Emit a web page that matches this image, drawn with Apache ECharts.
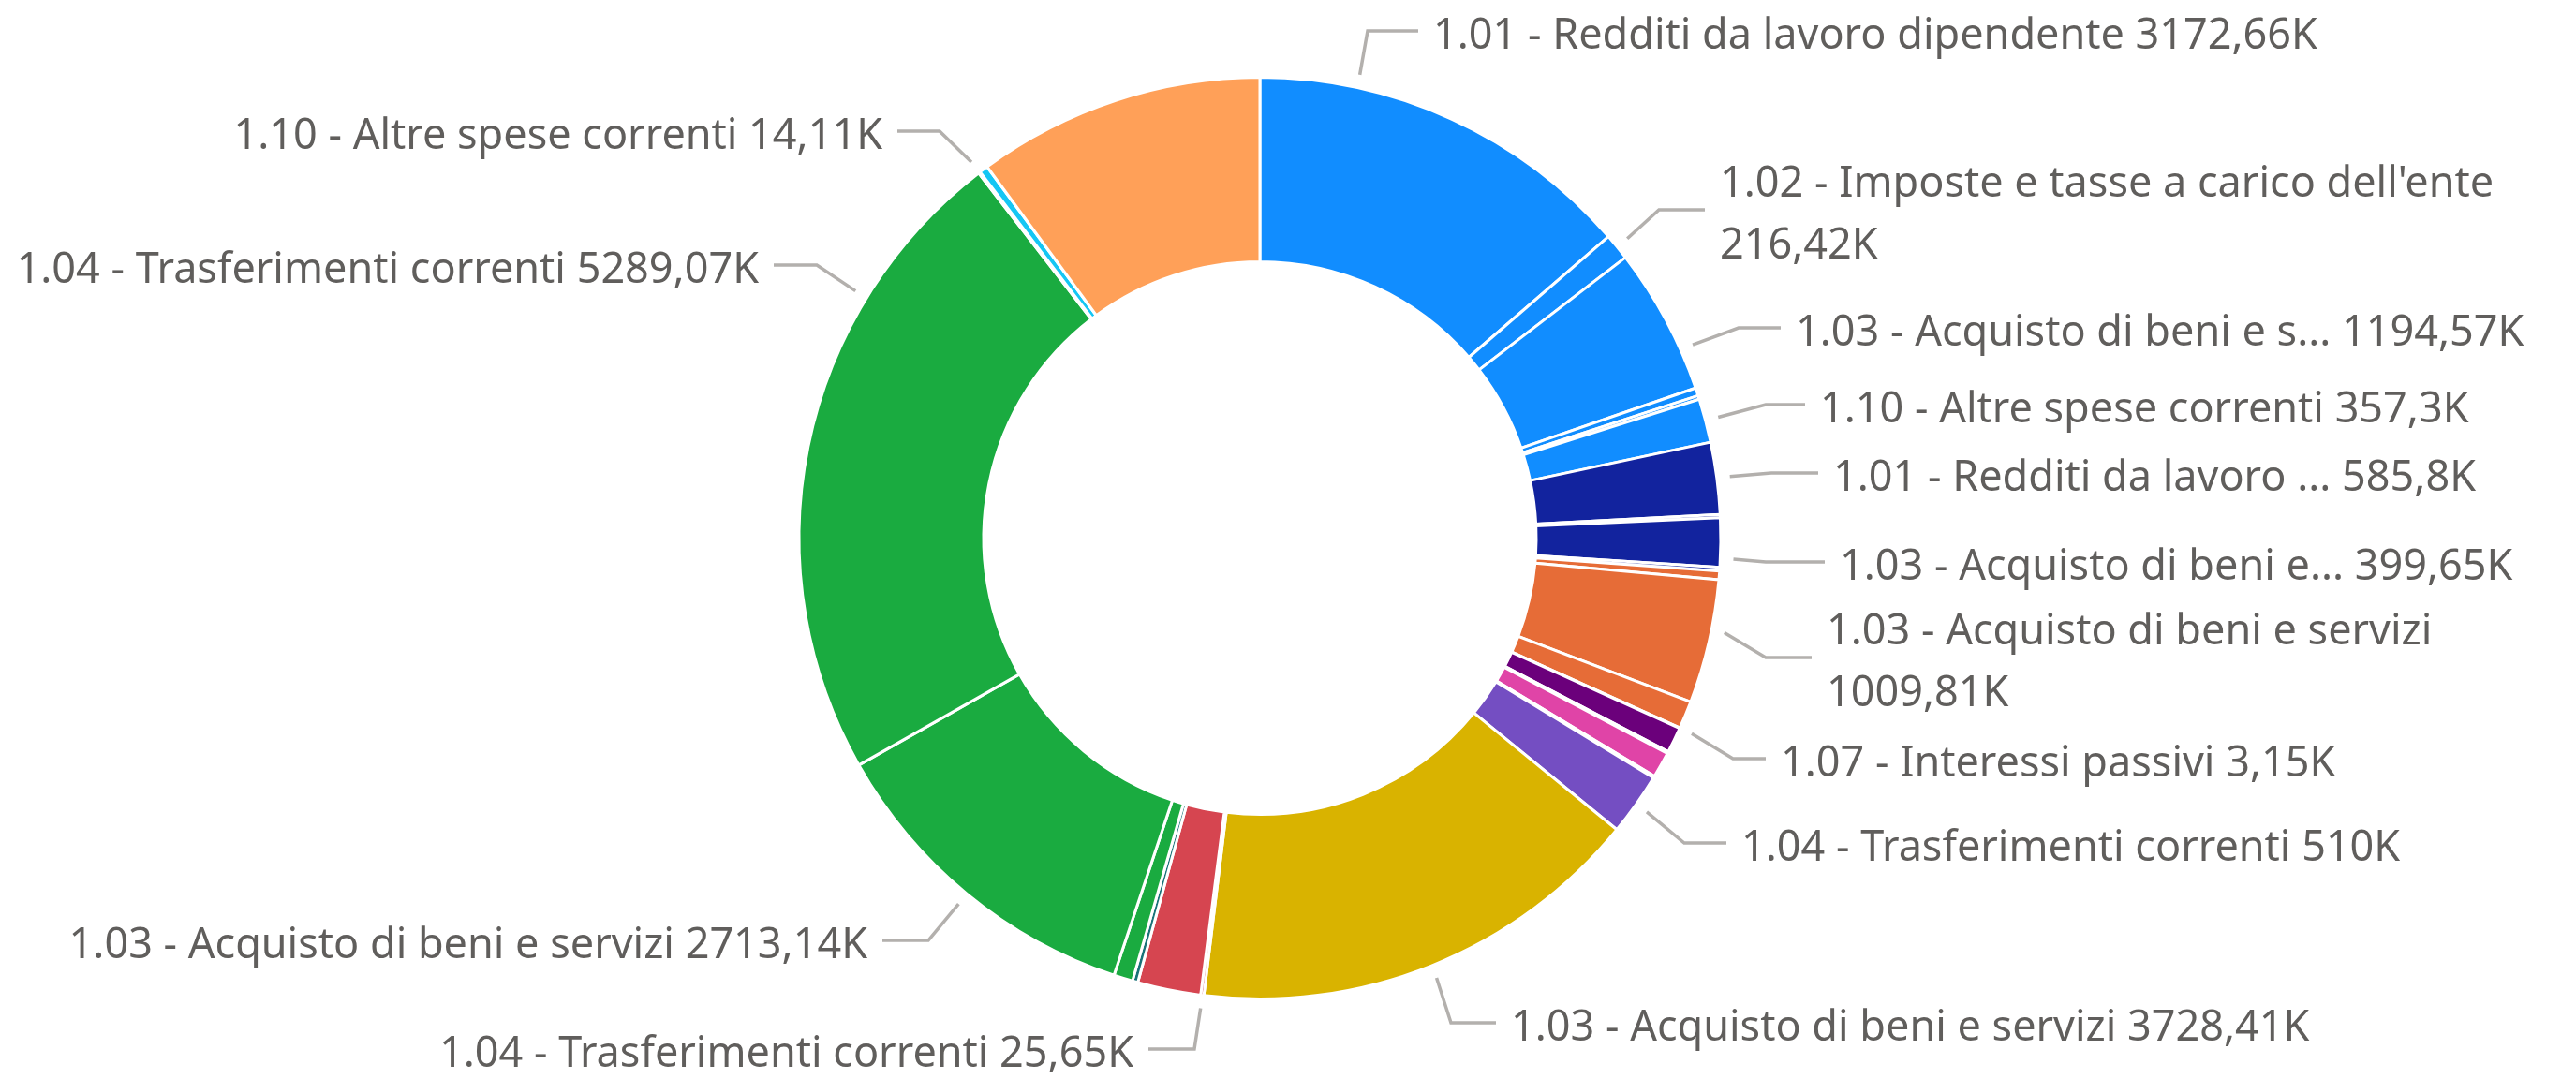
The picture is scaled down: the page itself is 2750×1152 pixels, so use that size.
<!DOCTYPE html>
<html>
<head>
<meta charset="utf-8">
<script src="https://cdn.jsdelivr.net/npm/echarts/dist/echarts.min.js"></script>
<style>
    html, body { margin: 0; padding: 0; background: #fff; }
    #chart { width: 2750px; height: 1152px; }
</style>
</head>
<body>
<div id="chart"></div>
<script>
// slices clockwise from 12 o'clock, values in thousands
const names = [
    '1.01 - Redditi da lavoro dipendente',
    "1.02 - Imposte e tasse a carico dell'ente",
    '1.03 - Acquisto di beni e servizi',
    'Altro', 'Altro',
    '1.10 - Altre spese correnti',
    '1.01 - Redditi da lavoro dipendente',
    'Altro',
    '1.03 - Acquisto di beni e servizi',
    'Altro', 'Altro',
    '1.03 - Acquisto di beni e servizi',
    'Altro',
    '1.07 - Interessi passivi',
    'Altro', 'Altro', 'Altro', 'Altro',
    '1.04 - Trasferimenti correnti',
    '1.03 - Acquisto di beni e servizi',
    '1.04 - Trasferimenti correnti',
    'Altro', 'Altro', 'Altro',
    '1.03 - Acquisto di beni e servizi',
    '1.04 - Trasferimenti correnti',
    '1.10 - Altre spese correnti',
    'Altro', 'Altro'
];
const values = [
    3172.66, 216.42, 1194.57, 65, 30, 357.3,
    585.8, 25, 399.65, 30,
    70, 1009.81, 226,
    3.15, 210, 15, 210, 15,
    510, 3728.41, 25.65, 515, 45,
    155, 2713.14, 5289.07,
    14.11, 70, 2344
];
// text written next to the slice (null = no label)
const shownNames = [
    '1.01 - Redditi da lavoro dipendente',
    "1.02 - Imposte e tasse a carico dell'ente",
    '1.03 - Acquisto di beni e s...',
    null, null,
    '1.10 - Altre spese correnti',
    '1.01 - Redditi da lavoro ...',
    null,
    '1.03 - Acquisto di beni e...',
    null, null,
    '1.03 - Acquisto di beni e servizi',
    null,
    '1.07 - Interessi passivi',
    null, null, null, null,
    '1.04 - Trasferimenti correnti',
    '1.03 - Acquisto di beni e servizi',
    '1.04 - Trasferimenti correnti',
    null, null, null,
    '1.03 - Acquisto di beni e servizi',
    '1.04 - Trasferimenti correnti',
    '1.10 - Altre spese correnti',
    null, null
];

const colors = [
    '#118DFF', '#118DFF', '#118DFF', '#118DFF', '#118DFF', '#118DFF',
    '#12239E', '#12239E', '#12239E', '#12239E',
    '#E66C37', '#E66C37', '#E66C37',
    '#6B007B', '#6B007B', '#6B007B', '#E044A7', '#E044A7',
    '#744EC2', '#D9B300', '#D64550', '#D64550', '#197278',
    '#1AAB40', '#1AAB40', '#1AAB40',
    '#15C6F4', '#15C6F4', '#FFA058'
];

// where each label sits: text anchor x / leader y, elbow x of the leader, angle shift of the leader start
const spots = {
    0: {x: 1530, y: 33, ex: 1460, off: -12.4, sep: ' '},
    1: {x: 1836, y: 224, ex: 1771, off: 0, sep: '\n'},
    2: {x: 1917, y: 350, ex: 1856, off: 4.2, sep: ' '},
    5: {x: 1943, y: 432, ex: 1885, off: 0, sep: ' '},
    6: {x: 1957, y: 505, ex: 1891, off: 0, sep: ' '},
    8: {x: 1964, y: 600, ex: 1885, off: 2, sep: ' '},
    11: {x: 1950, y: 702, ex: 1885, off: -1.5, sep: '\n'},
    13: {x: 1901, y: 810, ex: 1850, off: 0, sep: ' '},
    18: {x: 1859, y: 900, ex: 1798, off: 0, sep: ' '},
    19: {x: 1613, y: 1092, ex: 1549, off: 0, sep: ' '},
    20: {x: 1210, y: 1120, ex: 1275, off: 0, sep: ' '},
    24: {x: 926, y: 1004, ex: 991, off: 0, sep: ' '},
    25: {x: 810, y: 283, ex: 872, off: 20, sep: ' '},
    26: {x: 942, y: 140, ex: 1003, off: 0, sep: ' '}
};

const CX = 1345, CY = 574.5;
const R_IN = 295, R_OUT = 492;
const TEXT_DY = 6;

function fmtK(v) {
    return String(v).replace('.', ',') + 'K';
}

const pieData = values.map((v, i) => {
    const item = {name: names[i], value: v, itemStyle: {color: colors[i]}};
    if (shownNames[i] === null) {
        item.label = {show: false};
        item.labelLine = {show: false};
    } else {
        item.label = {formatter: shownNames[i] + spots[i].sep + fmtK(v)};
    }
    return item;
});

const chart = echarts.init(document.getElementById('chart'));
chart.setOption({
    animation: false,
    backgroundColor: '#ffffff',
    series: [{
        type: 'pie',
        center: [CX, CY],
        radius: [R_IN, R_OUT],
        startAngle: 90,
        clockwise: true,
        avoidLabelOverlap: false,
        minShowLabelAngle: 0,
        itemStyle: {
            borderColor: '#ffffff',
            borderWidth: 3
        },
        label: {
            show: true,
            position: 'outside',
            fontFamily: 'Noto Sans',
            fontSize: 45,
            lineHeight: 66,
            color: '#605E5C'
        },
        labelLine: {
            show: true,
            length: 30,
            length2: 30,
            lineStyle: {color: '#B3B0AD', width: 3.5}
        },
        emphasis: {disabled: true},
        labelLayout: function (params) {
            const spot = spots[params.dataIndex];
            if (!spot || !params.labelLinePoints) return {};
            const p0 = params.labelLinePoints[0];
            const mid = Math.atan2(p0[0] - CX, CY - p0[1]);
            const a = mid + spot.off * Math.PI / 180;
            const sx = CX + (R_OUT + 14) * Math.sin(a);
            const sy = CY - (R_OUT + 14) * Math.cos(a);
            const right = spot.x > CX;
            const endX = right ? spot.x - 16 : spot.x + 16;
            return {
                x: spot.x,
                y: spot.y + TEXT_DY,
                align: right ? 'left' : 'right',
                verticalAlign: 'middle',
                labelLinePoints: [[sx, sy], [spot.ex, spot.y], [endX, spot.y]]
            };
        },
        data: pieData
    }]
});
</script>
</body>
</html>
